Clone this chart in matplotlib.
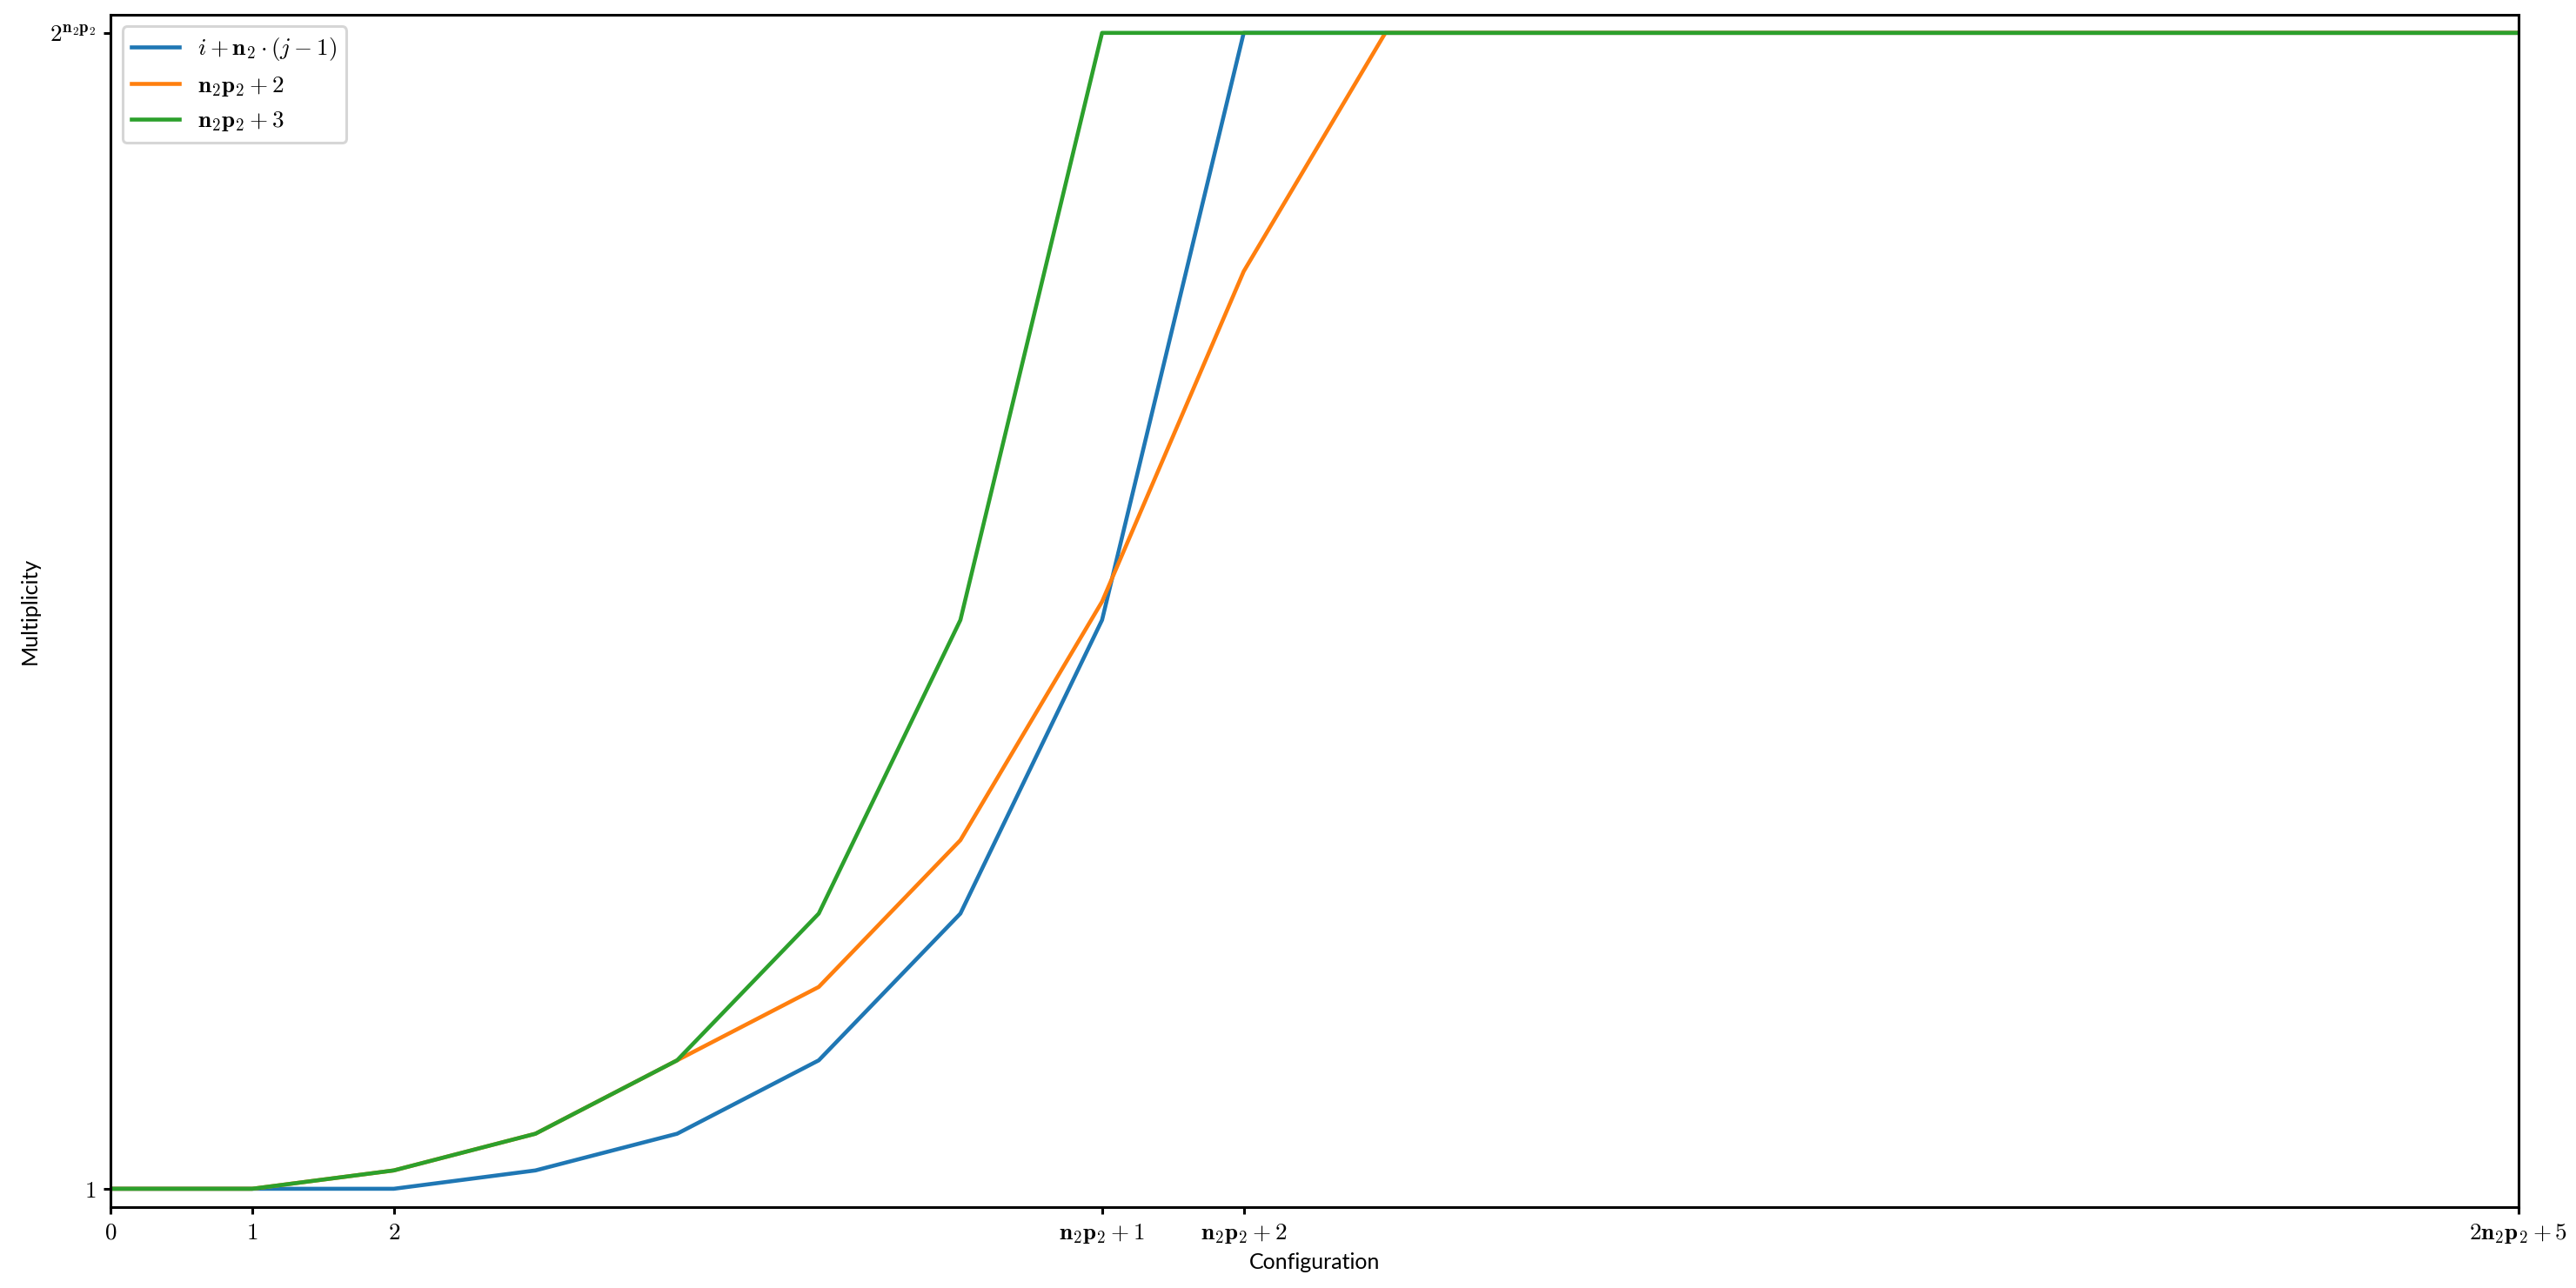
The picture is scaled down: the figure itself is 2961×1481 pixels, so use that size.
import matplotlib
matplotlib.use("Agg")
import matplotlib.pyplot as plt

plt.rcParams['mathtext.fontset'] = 'cm'
plt.rcParams['font.family'] = ['Lato', 'DejaVu Sans']

# data
x = list(range(18))
blue = [1, 1, 1, 2, 4, 8, 16, 32, 64, 64, 64, 64, 64, 64, 64, 64, 64, 64]
orange = [1, 1, 2, 4, 8, 12, 20, 33, 51, 64, 64, 64, 64, 64, 64, 64, 64, 64]
green = [1, 1, 2, 4, 8, 16, 32, 64, 64, 64, 64, 64, 64, 64, 64, 64, 64, 64]
labels = [r'$i+\mathbf{n}_2\cdot(j-1)$', r'$\mathbf{n}_2\mathbf{p}_2+2$', r'$\mathbf{n}_2\mathbf{p}_2+3$']
xticks = [0, 1, 2, 7, 8, 17]
xticklabels = ['$0$', '$1$', '$2$', r'$\mathbf{n}_2\mathbf{p}_2+1$', r'$\mathbf{n}_2\mathbf{p}_2+2$', r'$2\mathbf{n}_2\mathbf{p}_2+5$']
yticks = [1, 64]
yticklabels = ['$1$', r'$2^{\mathbf{n}_2\mathbf{p}_2}$']

fig = plt.figure(figsize=(29.61, 14.81), dpi=100)
ax = fig.add_axes([127/2961, 1 - 1388/1481, (2895 - 127)/2961, (1388 - 16.7)/1481])

for y, lab, c in zip([blue, orange, green], labels, ['#1f77b4', '#ff7f0e', '#2ca02c']):
    ax.plot(x, y, color=c, lw=3.3, label=lab)

ax.set_xlim(0, 17)
ax.set_ylim(0, 65)
ax.set_xticks(xticks)
ax.set_xticklabels(xticklabels)
ax.set_yticks(yticks)
ax.set_yticklabels(yticklabels)
ax.tick_params(labelsize=19.5, length=6, width=2.2, pad=6)
for s in ax.spines.values():
    s.set_linewidth(2.2)

ax.set_xlabel('Configuration', fontsize=18, labelpad=6)
ax.set_ylabel('Multiplicity', fontsize=18, labelpad=8)

leg = ax.legend(loc='upper left', fontsize=19.5, handlelength=2.0, borderaxespad=0.5)
leg.get_frame().set_linewidth(2.2)

fig.savefig('out.png', dpi=100)
